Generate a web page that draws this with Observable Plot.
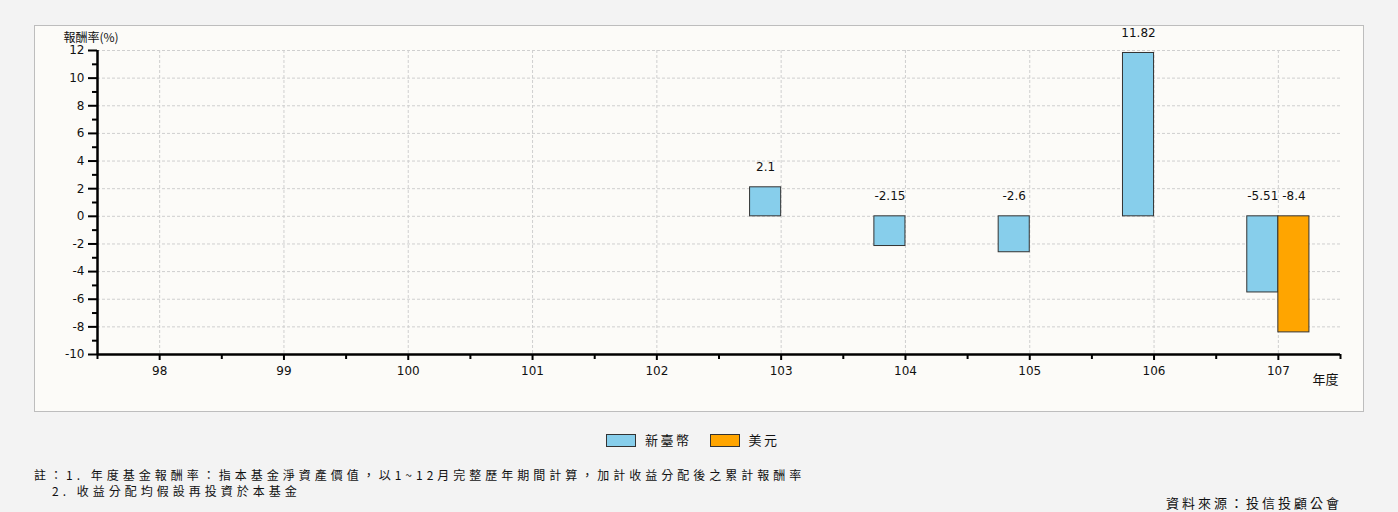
<!DOCTYPE html>
<html><head><meta charset="utf-8">
<script src="https://cdn.jsdelivr.net/npm/d3@7"></script>
<script src="https://cdn.jsdelivr.net/npm/@observablehq/plot@0.6"></script>
<style>
html,body{margin:0;padding:0;background:#f3f3f3;width:1398px;height:512px;overflow:hidden;font-family:"Noto Sans CJK TC","Noto Sans",sans-serif;color:#111;}
#panel{position:absolute;left:34px;top:25px;width:1328px;height:385px;border:1px solid #bdbdbd;background:#fcfbf8;}
#panel svg{display:block;}
#legend{position:absolute;left:606px;top:431px;font-size:13px;letter-spacing:2.5px;line-height:18px;white-space:nowrap;}
#legend .item{display:inline-block;margin-right:18px;}
#legend .sw{display:inline-block;width:28px;height:11px;border:1px solid #333;vertical-align:middle;margin-right:9px;position:relative;top:-1px;}
#notes{position:absolute;left:34px;top:467px;font-size:12px;letter-spacing:4px;line-height:16px;white-space:nowrap;}
#notes div{height:16px;line-height:16px;}
#notes .l2{padding-left:18px;}
#source{position:absolute;right:56px;top:494px;font-size:13px;letter-spacing:3px;line-height:18px;white-space:nowrap;}
</style></head><body>
<div id="panel"></div>
<div id="legend"></div>
<div id="notes"></div>
<div id="source"></div>
<script>
// ---- data ----
const years = ["98","99","100","101","102","103","104","105","106","107"];
const seriesNames = ["新臺幣","美元"];
const seriesColors = ["#87ceeb","#ffa500"];
const ntYears = ["103","104","105","106","107"];
const ntValues = [2.1,-2.15,-2.6,11.82,-5.51];
const usdYears = ["107"];
const usdValues = [-8.4];
const yTicks = [-10,-8,-6,-4,-2,0,2,4,6,8,10,12];
const yMinorTicks = [-9,-7,-5,-3,-1,1,3,5,7,9,11];
const yLabel = "報酬率(%)";
const xLabel = "年度";
const noteLines = ["註：1. 年度基金報酬率：指本基金淨資產價值，以1~12月完整歷年期間計算，加計收益分配後之累計報酬率","2. 收益分配均假設再投資於本基金"];
const sourceText = "資料來源：投信投顧公會";

// ---- chart ----
const W = 1328, H = 385, ML = 62, MR = 23, MT = 24, MB = 57;
const bw = (W - ML - MR) / years.length;
const nt = ntYears.map((year, i) => ({year, value: ntValues[i]}));
const usd = usdYears.map((year, i) => ({year, value: usdValues[i]}));
const cjk = "Noto Sans CJK TC";

const chart = Plot.plot({
  width: W, height: H,
  marginLeft: ML, marginRight: MR, marginTop: MT, marginBottom: MB,
  style: {background: "transparent", fontFamily: "DejaVu Sans, sans-serif", fontSize: "12px", color: "#111", overflow: "visible"},
  x: {type: "band", domain: years, padding: 0, round: false},
  y: {domain: [-10, 12]},
  marks: [
    Plot.gridY(yTicks.filter(t => t > -10), {stroke: "#cfcfcf", strokeOpacity: 1, strokeDasharray: "3,2"}),
    Plot.gridX(years, {stroke: "#cfcfcf", strokeOpacity: 1, strokeDasharray: "3,2"}),
    Plot.barY(nt, {x: "year", y: "value", fill: seriesColors[0], stroke: "#333", strokeWidth: 1, insetLeft: bw / 4, insetRight: bw / 2}),
    Plot.barY(usd, {x: "year", y: "value", fill: seriesColors[1], stroke: "#333", strokeWidth: 1, insetLeft: bw / 2, insetRight: bw / 4}),
    Plot.text(nt, {x: "year", y: d => Math.max(0, d.value), text: d => String(d.value), dx: -bw / 8, dy: -20, fontSize: 12}),
    Plot.text(usd, {x: "year", y: d => Math.max(0, d.value), text: d => String(d.value), dx: bw / 8, dy: -20, fontSize: 12}),
    Plot.ruleY([-10], {stroke: "#000", strokeWidth: 2.5}),
    Plot.ruleX([years[0]], {x: d => d, dx: -bw / 2, stroke: "#000", strokeWidth: 2.5}),
    Plot.axisY(yTicks, {tickSize: 9, tickPadding: 4, strokeWidth: 2, stroke: "#000", tickFormat: d => String(d), label: null, fontSize: 12}),
    Plot.axisY(yMinorTicks, {tickSize: 5, strokeWidth: 2, stroke: "#000", tickFormat: () => "", label: null}),
    Plot.axisX(years, {tickSize: 6, tickPadding: 6, strokeWidth: 2, stroke: "#000", label: null, fontSize: 12}),
    Plot.ruleX(years, {x: d => d, dx: bw / 2, y1: -10, y2: -10, insetBottom: -5, stroke: "#000", strokeWidth: 2}),
    Plot.ruleX([years[0]], {x: d => d, dx: -bw / 2, y1: -10, y2: -10, insetBottom: -5, stroke: "#000", strokeWidth: 2}),
    Plot.text([yLabel], {text: d => d, frameAnchor: "top-left", dx: -34, dy: -17, textAnchor: "start", fontFamily: cjk, fontSize: 12, letterSpacing: 0.6}),
    Plot.text([xLabel], {text: d => d, frameAnchor: "bottom-right", dx: -2, dy: 29, textAnchor: "end", fontFamily: cjk, fontSize: 13, letterSpacing: 2})
  ]
});
document.getElementById("panel").appendChild(chart);

// ---- legend ----
const legend = document.getElementById("legend");
seriesNames.forEach((name, i) => {
  const item = document.createElement("span");
  item.className = "item";
  const sw = document.createElement("span");
  sw.className = "sw";
  sw.style.background = seriesColors[i];
  item.appendChild(sw);
  item.appendChild(document.createTextNode(name));
  legend.appendChild(item);
});

// ---- notes ----
const notes = document.getElementById("notes");
noteLines.forEach((t, i) => {
  const d = document.createElement("div");
  if (i > 0) d.className = "l2";
  d.textContent = t;
  notes.appendChild(d);
});
document.getElementById("source").textContent = sourceText;
</script>
</body></html>
